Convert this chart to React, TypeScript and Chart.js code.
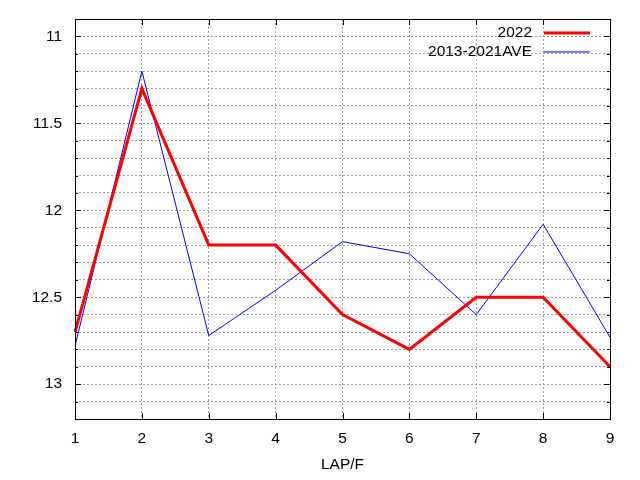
import { useEffect, useRef } from "react";
import { Chart, registerables } from "chart.js";

Chart.register(...registerables);

const laps = ["1", "2", "3", "4", "5", "6", "7", "8", "9"];
const values2022 = [12.7, 11.3, 12.2, 12.2, 12.6, 12.8, 12.5, 12.5, 12.9];
const valuesAve = [12.78, 11.2, 12.72, 12.46, 12.18, 12.25, 12.6, 12.08, 12.73];
const yTickLabels = ["11", "11.5", "12", "12.5", "13"];

const FONT = "'Liberation Sans', Arial, sans-serif";

// gnuplot-like frame, inward tick marks and right-aligned key
const gnuplotDeco = {
  id: "gnuplotDeco",
  afterDatasetsDraw(chart: any) {
    const { ctx, chartArea: a, scales } = chart;
    ctx.save();
    ctx.strokeStyle = "#000";
    ctx.lineWidth = 1;
    ctx.setLineDash([]);
    ctx.beginPath();
    scales.y.ticks.forEach((t: any) => {
      const y = Math.round(scales.y.getPixelForValue(t.value)) + 0.5;
      const len = t.label ? 6 : 3;
      ctx.moveTo(a.left, y);
      ctx.lineTo(a.left + len, y);
      ctx.moveTo(a.right, y);
      ctx.lineTo(a.right - len, y);
    });
    laps.forEach((_, i) => {
      const x = Math.round(scales.x.getPixelForValue(i)) + 0.5;
      ctx.moveTo(x, a.bottom);
      ctx.lineTo(x, a.bottom - 6);
      ctx.moveTo(x, a.top);
      ctx.lineTo(x, a.top + 6);
    });
    ctx.stroke();
    ctx.strokeRect(Math.round(a.left) + 0.5, Math.round(a.top) + 0.5, Math.round(a.right - a.left), Math.round(a.bottom - a.top));

    // key
    ctx.font = "15.5px " + FONT;
    ctx.fillStyle = "#000";
    ctx.textAlign = "right";
    ctx.textBaseline = "middle";
    chart.data.datasets.forEach((ds: any, i: number) => {
      const y = a.top + 14 + i * 19;
      ctx.fillText(ds.label, a.right - 78, y);
      ctx.beginPath();
      ctx.strokeStyle = ds.borderColor;
      ctx.lineWidth = ds.borderWidth;
      ctx.moveTo(a.right - 66, y);
      ctx.lineTo(a.right - 20, y);
      ctx.stroke();
    });
    ctx.restore();
  },
};

const LapChart = () => {
  const canvasRef: any = useRef(null);
  useEffect(() => {
    document.body.style.margin = "0";
    const ctx = canvasRef.current.getContext("2d");
    const theChart = new Chart(ctx, {
      type: "line",
      data: {
        labels: laps,
        datasets: [
          {
            label: "2022",
            data: values2022,
            borderColor: "#ff0000",
            borderWidth: 3,
            pointRadius: 0,
            tension: 0,
            fill: false,
          },
          {
            label: "2013-2021AVE",
            data: valuesAve,
            borderColor: "#0000ff",
            borderWidth: 1,
            pointRadius: 0,
            tension: 0,
            fill: false,
          },
        ],
      },
      options: {
        responsive: false,
        animation: false,
        layout: { padding: { top: 19, right: 30, left: 0, bottom: 0 } },
        plugins: {
          legend: { display: false },
          tooltip: { enabled: false },
        },
        scales: {
          x: {
            offset: false,
            grid: { color: "#a0a0a0", drawTicks: false, offset: false },
            border: { display: false, dash: [2, 2] },
            ticks: { color: "#000", font: { family: FONT, size: 15.5 }, padding: 10, maxRotation: 0 },
            title: {
              display: true,
              text: "LAP/F",
              color: "#000",
              font: { family: FONT, size: 15.5 },
              padding: { top: 0, bottom: 6 },
            },
            afterFit: (scale: any) => {
              scale.height = 61;
              scale.paddingLeft = 0;
              scale.paddingRight = 0;
            },
          },
          y: {
            reverse: true,
            min: 10.9,
            max: 13.2,
            grid: { color: "#a0a0a0", drawTicks: false },
            border: { display: false, dash: [2, 2] },
            ticks: {
              stepSize: 0.1,
              color: "#000",
              font: { family: FONT, size: 15.5 },
              padding: 13,
              autoSkip: false,
              callback: (v: any) => {
                const s = String(Math.round(Number(v) * 10) / 10);
                return yTickLabels.includes(s) ? s : "";
              },
            },
            afterFit: (scale: any) => {
              scale.width = 75;
              scale.paddingTop = 0;
              scale.paddingBottom = 0;
            },
          },
        },
      },
      plugins: [gnuplotDeco],
    });
    return () => {
      theChart.destroy();
    };
  }, []);

  return <canvas ref={canvasRef} width={640} height={480} />;
};

export default function App() {
  return <LapChart />;
}
